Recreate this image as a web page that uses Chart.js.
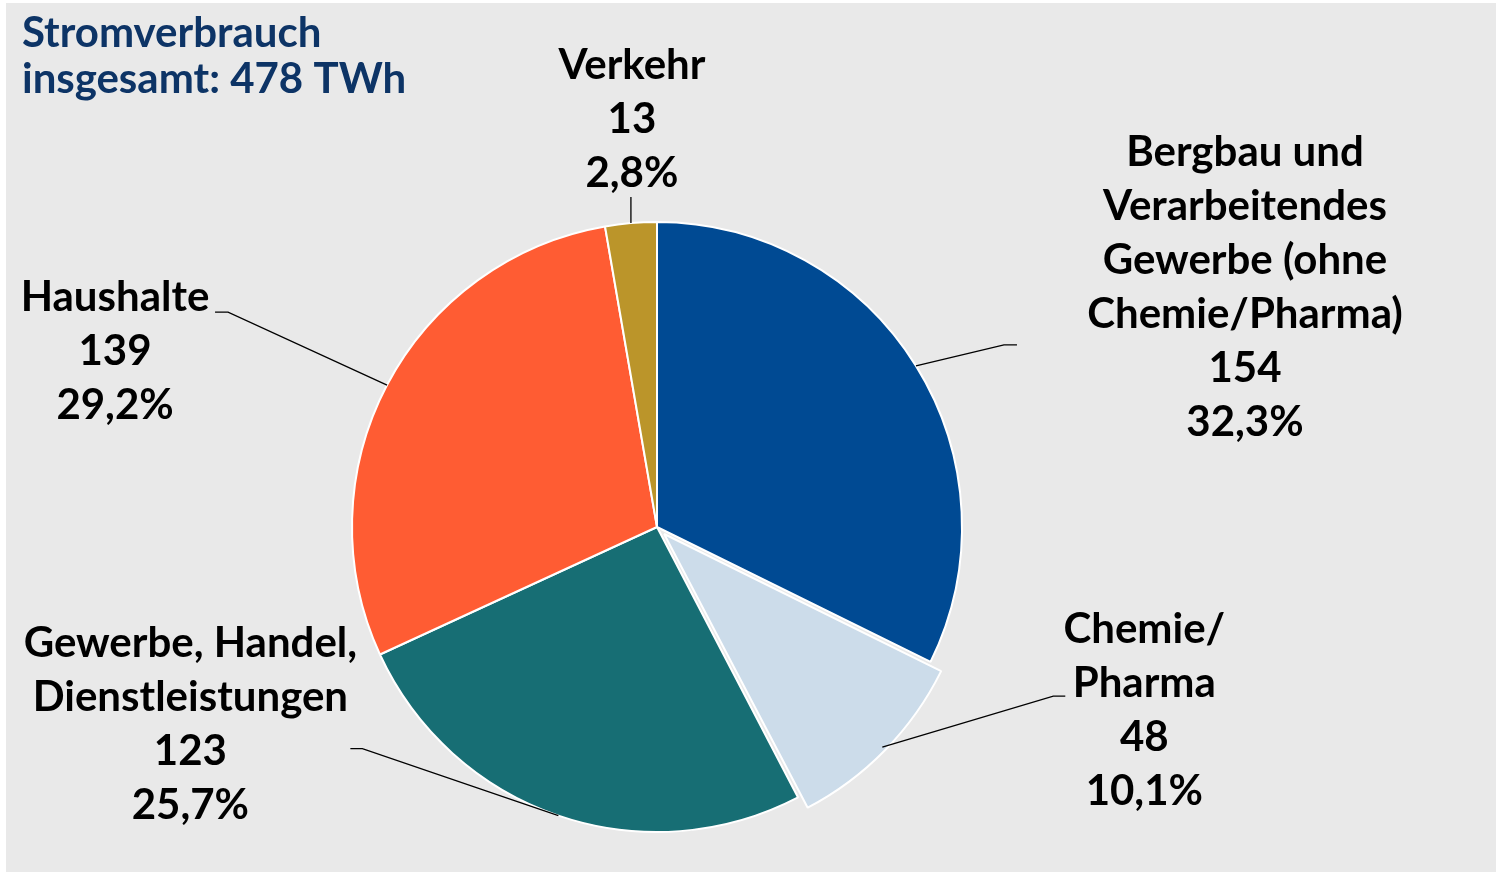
<!DOCTYPE html>
<html>
<head>
<meta charset="utf-8">
<script src="https://cdn.jsdelivr.net/npm/chart.js@4.4.1/dist/chart.umd.min.js"></script>
<style>
  body { margin: 0; background: #fff; }
  #box { position: absolute; left: 6px; top: 3px; width: 1490px; height: 869px; background: #e9e9e9; }
</style>
</head>
<body>
<div id="box"><canvas id="torte"></canvas></div>
<script>
// Stromverbrauch nach Sektoren
var titelZeilen = ['Stromverbrauch', 'insgesamt: 478 TWh'];
var kategorien = ['Bergbau und Verarbeitendes Gewerbe (ohne Chemie/Pharma)', 'Chemie/Pharma', 'Gewerbe, Handel, Dienstleistungen', 'Haushalte', 'Verkehr'];
var labelZeilen = [
    ['Bergbau und', 'Verarbeitendes', 'Gewerbe (ohne', 'Chemie/Pharma)'],
    ['Chemie/', 'Pharma'],
    ['Gewerbe, Handel,', 'Dienstleistungen'],
    ['Haushalte'],
    ['Verkehr']
];
var verbrauchTWh = [154, 48, 123, 139, 13];
var anteilProzent = ['32,3%', '10,1%', '25,7%', '29,2%', '2,8%'];
var farben = ['#004a93', '#ccdcea', '#176e74', '#ff5c33', '#bb952a'];

// Lage der Beschriftungen relativ zum Randpunkt des Segments
var layout = [
    {kx: 88, ky: -21, ende: 13, tx: 329, ty: -213},
    {kx: 171, ky: -51, ende: 12, tx: 262, ty: -118},
    {kx: -196, ky: -67, ende: -12, tx: -368, ty: -172},
    {kx: -159, ky: -73, ende: -13, tx: -272, ty: -88},
    {kx: 0, ky: -26, ende: 0, tx: 1, ty: -158}
];

var schrift = '"Lato", "Noto Sans", sans-serif';

var beschriftung = {
    id: 'beschriftung',
    afterDatasetsDraw: function(chart) {
        var ctx = chart.ctx;
        var meta = chart.getDatasetMeta(0);
        ctx.save();
        meta.data.forEach(function(arc, i) {
            var p = arc.getProps(['x', 'y', 'startAngle', 'endAngle', 'outerRadius'], true);
            var mitte = (p.startAngle + p.endAngle) / 2;
            var versatz = (arc.options.offset || 0) / 4;
            var r = p.outerRadius + versatz;
            var ax = p.x + Math.cos(mitte) * r;
            var ay = p.y + Math.sin(mitte) * r;
            var l = layout[i];
            ctx.strokeStyle = '#000';
            ctx.lineWidth = 1.3;
            ctx.beginPath();
            ctx.moveTo(ax, ay);
            ctx.lineTo(ax + l.kx, ay + l.ky);
            ctx.lineTo(ax + l.kx + l.ende, ay + l.ky);
            ctx.stroke();

            var zeilen = labelZeilen[i].concat([String(verbrauchTWh[i]), anteilProzent[i]]);
            ctx.fillStyle = '#000';
            ctx.font = 'bold 42px ' + schrift;
            ctx.textAlign = 'center';
            ctx.textBaseline = 'middle';
            zeilen.forEach(function(z, j) {
                ctx.fillText(z, ax + l.tx, ay + l.ty + j * 54);
            });
        });

        ctx.fillStyle = '#0d3466';
        ctx.font = 'bold 42px ' + schrift;
        ctx.textAlign = 'left';
        ctx.textBaseline = 'alphabetic';
        titelZeilen.forEach(function(z, j) {
            ctx.fillText(z, 16, 44 + j * 46);
        });
        ctx.restore();
    }
};

var canvas = document.getElementById('torte').getContext('2d');
window.torte = new Chart(canvas, {
    type: 'pie',
    data: {
        labels: kategorien,
        datasets: [{
            data: verbrauchTWh,
            backgroundColor: farben,
            borderColor: '#ffffff',
            borderWidth: 2,
            offset: [0, 40, 0, 0, 0]
        }]
    },
    options: {
        responsive: true,
        maintainAspectRatio: false,
        animation: false,
        radius: 305,
        layout: { padding: { left: 0, right: 188, top: 179, bottom: 0 } },
        plugins: {
            legend: { display: false },
            tooltip: { enabled: false }
        }
    },
    plugins: [beschriftung]
});
</script>
</body>
</html>
